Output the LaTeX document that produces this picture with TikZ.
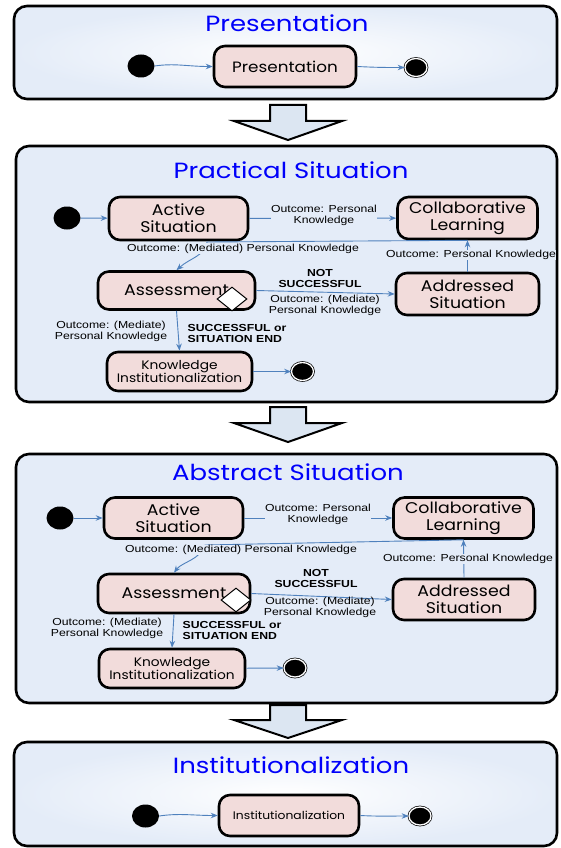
\documentclass[tikz,border=0pt]{standalone}
\usepackage{fontspec}
\setmainfont{Liberation Sans}
\newfontfamily\statefont[FakeStretch=1.12]{Poppins}
\newfontfamily\titlefont[FakeStretch=1.18]{Poppins}
\newfontfamily\lblfont[FakeStretch=1.2]{Liberation Sans}
\usetikzlibrary{shapes.geometric,arrows.meta,positioning}

\definecolor{panelbg}{RGB}{228,236,248}
\definecolor{statefill}{RGB}{242,220,219}
\definecolor{flowblue}{RGB}{79,129,189}
\definecolor{arrowfill}{RGB}{220,230,242}
\definecolor{titleblue}{RGB}{0,0,250}

\tikzset{
  panel/.style={draw=black, line width=2.6pt, rounded corners=13pt, fill=panelbg},
  glowpanel/.style={panel, inner color=white, outer color=panelbg},
  ptitle/.style={text=titleblue, inner sep=0pt, font=\titlefont\fontsize{22}{24}\selectfont},
  state/.style={draw=black, line width=2.6pt, rounded corners=11pt, fill=statefill,
    align=center, inner sep=0pt, minimum width=140pt, minimum height=41pt,
    font=\statefont\fontsize{15.5}{17}\selectfont},
  initial/.style={ellipse, fill=black, inner sep=0pt, minimum width=27pt, minimum height=23pt},
  final/.style={ellipse, fill=black, draw=black, double=white, double distance=1.3pt,
    line width=0.7pt, inner sep=0pt, minimum width=22pt, minimum height=18pt},
  choice/.style={diamond, draw=black, fill=white, line width=1pt, inner sep=0pt,
    minimum width=30pt, minimum height=24pt},
  flow/.style={draw=flowblue, line width=0.9pt, -{Stealth[length=7pt,width=5.5pt]}},
  lbl/.style={font=\lblfont\fontsize{10.2}{11}\selectfont, align=center, inner sep=0.5pt, fill=panelbg},
  blbl/.style={lbl, font=\lblfont\bfseries\fontsize{10.2}{11}\selectfont},
  blockarrow/.style={draw=black, line width=2pt, fill=arrowfill, line join=miter},
}

\begin{document}
\begin{tikzpicture}[x=1pt,y=-1pt]
\useasboundingbox (0,0) rectangle (560,848);

%%%%%%%%%%%%%%%%%%%%%%%%%%%%%%%%%%%%%%%%%%%%%%%%%%%%%%%%%%%%%%%%%
% panels and stage arrows
\draw [glowpanel] (14,6) rectangle (557,99);
\draw [panel] (16,146) rectangle (557,402);
\draw [panel] (16,454) rectangle (557,703);
\draw [glowpanel] (14,742) rectangle (557,846);

\draw [blockarrow] (270,105) -- (306,105) -- (306,121) -- (342,121) -- (288,140) -- (234,121) -- (270,121) -- cycle;
\draw [blockarrow] (270,407) -- (306,407) -- (306,423) -- (342,423) -- (288,442) -- (234,423) -- (270,423) -- cycle;
\draw [blockarrow] (270,705) -- (306,705) -- (306,720) -- (342,720) -- (288,738) -- (234,720) -- (270,720) -- cycle;

%%%%%%%%%%%%%%%%%%%%%%%%%%%%%%%%%%%%%%%%%%%%%%%%%%%%%%%%%%%%%%%%%
% Presentation
\node [ptitle] (t1) at (287,23) {Presentation};

\node [initial] (s1) at (141,66) {};
\node [state, minimum width=142pt, font=\statefont\fontsize{15}{17}\selectfont] (pres) at (285,66.5) {Presentation};
\node [final] (e1) at (416,67.5) {};
\draw [flow] (s1.east) .. controls +(20,-3) and +(-25,0) .. (pres.west);
\draw [flow] (pres.east) .. controls +(20,1) and +(-20,0) .. (e1.west);

%%%%%%%%%%%%%%%%%%%%%%%%%%%%%%%%%%%%%%%%%%%%%%%%%%%%%%%%%%%%%%%%%
% Practical Situation
\node [ptitle] (t2) at (291,170) {Practical Situation};

\node [initial] (s2) at (67,218) {};
\node [state, minimum width=139pt, minimum height=43pt] (act2) at (178.5,218.5) {Active\\Situation};
\node [state, minimum height=42pt] (col2) at (467.5,218) {Collaborative\\Learning};
\node [state, minimum width=157pt, minimum height=38pt] (asm2) at (176.5,290.5) {Assessment};
\node [choice] (dec2) at (232,299) {};
\node [state, minimum width=143pt, minimum height=42pt] (adr2) at (467.5,294) {Addressed\\Situation};
\node [state, minimum width=145pt, minimum height=39pt, font=\statefont\fontsize{12.3}{13.5}\selectfont] (ki2) at (179.5,371.5) {Knowledge\\Institutionalization};
\node [final] (e2) at (302.5,371.5) {};

\coordinate (m2) at (207,242);
\draw [flow] (s2) -- (act2);
\draw [flow] (act2) -- (col2);
\draw [flow] (adr2.north) -- (col2.south);
\draw [flow] (col2.south) -- (m2) .. controls (205,256) and (190,258) .. (asm2.north);
\draw [flow] (asm2.east) -- (adr2.west);
\draw [flow] (asm2.south) -- (ki2.north);
\draw [flow] (ki2) -- (e2);

\node [lbl] (l2a) at (324,215.5) {Outcome: Personal\\Knowledge};
\node [lbl] (l2b) at (243,248.5) {Outcome: (Mediated) Personal Knowledge};
\node [lbl] (l2c) at (471,255) {Outcome: Personal Knowledge};
\node [blbl, fill=none] (l2d) at (320,278.5) {NOT\\SUCCESSFUL};
\node [lbl, fill=none] (l2e) at (325,305.5) {Outcome: (Mediate)\\Personal Knowledge};
\node [lbl, fill=none] (l2f) at (111,331.5) {Outcome: (Mediate)\\Personal Knowledge};
\node [blbl, fill=none, align=left, anchor=west] (l2g) at (187,333.5) {SUCCESSFUL or\\SITUATION END};

%%%%%%%%%%%%%%%%%%%%%%%%%%%%%%%%%%%%%%%%%%%%%%%%%%%%%%%%%%%%%%%%%
% Abstract Situation
\node [ptitle] (t3) at (288,472) {Abstract Situation};

\node [initial] (s3) at (60,518) {};
\node [state, minimum width=139pt] (act3) at (173.5,518) {Active\\Situation};
\node [state] (col3) at (463.5,518) {Collaborative\\Learning};
\node [state, minimum width=152pt, minimum height=39pt] (asm3) at (174,593.5) {Assessment};
\node [choice] (dec3) at (236,600) {};
\node [state, minimum width=142pt] (adr3) at (464,599.5) {Addressed\\Situation};
\node [state, minimum width=146pt, minimum height=39pt, font=\statefont\fontsize{12.3}{13.5}\selectfont] (ki3) at (172,668.5) {Knowledge\\Institutionalization};
\node [final] (e3) at (295,668) {};

\coordinate (m3) at (205,545);
\draw [flow] (s3) -- (act3);
\draw [flow] (act3) -- (col3);
\draw [flow] (adr3.north) -- (col3.south);
\draw [flow] (col3.south) -- (m3) .. controls (200,560) and (182,562) .. (asm3.north);
\draw [flow] (asm3.east) -- (adr3.west);
\draw [flow] (asm3.south) -- (ki3.north);
\draw [flow] (ki3) -- (e3);

\node [lbl] (l3a) at (318,514.5) {Outcome: Personal\\Knowledge};
\node [lbl] (l3b) at (241,550) {Outcome: (Mediated) Personal Knowledge};
\node [lbl] (l3c) at (468,559) {Outcome: Personal Knowledge};
\node [blbl, fill=none] (l3d) at (316,578) {NOT\\SUCCESSFUL};
\node [lbl, fill=none] (l3e) at (320,607) {Outcome: (Mediate)\\Personal Knowledge};
\node [lbl, fill=none] (l3f) at (107,628.5) {Outcome: (Mediate)\\Personal Knowledge};
\node [blbl, fill=none, align=left, anchor=west] (l3g) at (182,630.5) {SUCCESSFUL or\\SITUATION END};

%%%%%%%%%%%%%%%%%%%%%%%%%%%%%%%%%%%%%%%%%%%%%%%%%%%%%%%%%%%%%%%%%
% Institutionalization
\node [ptitle] (t4) at (291,765) {Institutionalization};

\node [initial] (s4) at (145.5,816) {};
\node [state, minimum height=41pt, font=\statefont\fontsize{11}{12}\selectfont] (inst) at (289,815.5) {Institutionalization};
\node [final] (e4) at (420,816) {};
\draw [flow] (s4.east) .. controls +(20,-3) and +(-25,0) .. (inst.west);
\draw [flow] (inst.east) .. controls +(20,1) and +(-20,0) .. (e4.west);

\end{tikzpicture}
\end{document}
